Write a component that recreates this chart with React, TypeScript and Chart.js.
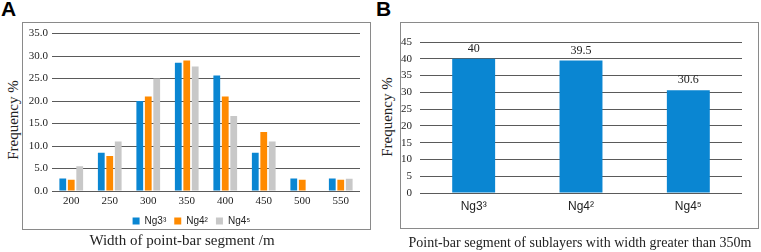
import React, { useEffect, useRef } from "react";
import { Chart, registerables } from "chart.js";

Chart.register(...registerables);

const widthCategories = ["200", "250", "300", "350", "400", "450", "500", "550"];
const ng33Values = [2.8, 8.5, 20.0, 28.5, 25.7, 8.5, 2.8, 2.8];
const ng42Values = [2.5, 7.8, 21.0, 29.0, 21.0, 13.1, 2.5, 2.5];
const ng45Values = [5.5, 11.0, 25.0, 27.7, 16.7, 11.0, 0, 2.7];
const seriesNames = ["Ng3\u00B3", "Ng4\u00B2", "Ng4\u2075"];
const seriesColors = ["#0A86D2", "#FF8A00", "#C8C8C8"];

const sublayerCategories = ["Ng3\u00B3", "Ng4\u00B2", "Ng4\u2075"];
const sublayerValues = [40, 39.5, 30.6];

const SERIF = "'Liberation Serif', 'Times New Roman', serif";
const SANS = "'Liberation Sans', Arial, sans-serif";
const GRID = "#5a5a5a";

const valueLabelPlugin = {
  id: "valueLabels",
  afterDatasetsDraw(chart: any) {
    const ctx = chart.ctx;
    ctx.save();
    ctx.font = `12px ${SERIF}`;
    ctx.fillStyle = "#222";
    ctx.textAlign = "center";
    ctx.textBaseline = "bottom";
    chart.data.datasets.forEach((ds: any, di: number) => {
      const meta = chart.getDatasetMeta(di);
      meta.data.forEach((el: any, i: number) => {
        ctx.fillText(String(ds.data[i]), el.x, el.y - 4);
      });
    });
    ctx.restore();
  },
};

function ChartA() {
  const ref = useRef<HTMLCanvasElement>(null);
  useEffect(() => {
    const chart = new Chart(ref.current!, {
      type: "bar",
      data: {
        labels: widthCategories,
        datasets: [ng33Values, ng42Values, ng45Values].map((d, i) => ({
          label: seriesNames[i],
          data: d,
          backgroundColor: seriesColors[i],
          barPercentage: 0.8,
          categoryPercentage: 0.66,
        })),
      },
      options: {
        responsive: false,
        animation: false,
        layout: { padding: { top: 9, right: 9, left: 0, bottom: 0 } },
        plugins: {
          tooltip: { enabled: false },
          legend: {
            position: "bottom",
            labels: {
              boxWidth: 7,
              boxHeight: 7,
              padding: 8,
              color: "#222",
              font: { family: SANS, size: 10 },
            },
          },
        },
        scales: {
          x: {
            grid: { display: false, drawTicks: false },
            border: { display: false },
            ticks: { color: "#222", font: { family: SERIF, size: 11 }, padding: 4 },
            afterFit: (s: any) => { s.height = 17; },
          },
          y: {
            min: 0,
            max: 35,
            ticks: {
              stepSize: 5,
              color: "#222",
              font: { family: SERIF, size: 11 },
              padding: 4,
              callback: (v: any) => Number(v).toFixed(1),
            },
            grid: { color: GRID, lineWidth: 1, drawTicks: false },
            border: { display: false },
            afterFit: (s: any) => { s.width = 29; },
          },
        },
      },
    });
    return () => chart.destroy();
  }, []);
  return <canvas ref={ref} width={346} height={213} style={{ position: "absolute", left: 23, top: 23 }} />;
}

function ChartB() {
  const ref = useRef<HTMLCanvasElement>(null);
  useEffect(() => {
    const chart = new Chart(ref.current!, {
      type: "bar",
      data: {
        labels: sublayerCategories,
        datasets: [
          {
            label: "B",
            data: sublayerValues,
            backgroundColor: seriesColors[0],
            barPercentage: 0.4,
            categoryPercentage: 1,
          },
        ],
      },
      plugins: [valueLabelPlugin],
      options: {
        responsive: false,
        animation: false,
        layout: { padding: { top: 19, right: 15, left: 0, bottom: 0 } },
        plugins: { tooltip: { enabled: false }, legend: { display: false } },
        scales: {
          x: {
            grid: { display: false, drawTicks: false },
            border: { display: false },
            ticks: { color: "#222", font: { family: SANS, size: 12 }, padding: 6 },
            afterFit: (s: any) => { s.height = 34; },
          },
          y: {
            min: 0,
            max: 45,
            ticks: { stepSize: 5, color: "#222", font: { family: SERIF, size: 11 }, padding: 8 },
            grid: { color: GRID, lineWidth: 1, drawTicks: false },
            border: { display: false },
            afterFit: (s: any) => { s.width = 19; },
          },
        },
      },
    });
    return () => chart.destroy();
  }, []);
  return <canvas ref={ref} width={356} height={204} style={{ position: "absolute", left: 401, top: 23 }} />;
}

const boxStyle = (left: number, top: number, w: number, h: number): React.CSSProperties => ({
  position: "absolute",
  left,
  top,
  width: w,
  height: h,
  border: "1px solid #8a8a8a",
  boxSizing: "border-box",
});

const rotTitle = (cx: number, cy: number): React.CSSProperties => ({
  position: "absolute",
  left: cx,
  top: cy,
  transform: "translate(-50%, -50%) rotate(-90deg)",
  whiteSpace: "nowrap",
  fontFamily: SERIF,
  fontSize: 15,
  color: "#222",
  lineHeight: 1,
});

const hTitle = (cx: number, cy: number, size: number): React.CSSProperties => ({
  position: "absolute",
  left: cx,
  top: cy,
  transform: "translate(-50%, -50%)",
  whiteSpace: "nowrap",
  fontFamily: SERIF,
  fontSize: size,
  color: "#222",
  lineHeight: 1,
});

const letter = (left: number): React.CSSProperties => ({
  position: "absolute",
  left,
  top: -3,
  fontFamily: SANS,
  fontWeight: "bold",
  fontSize: 21,
  color: "#000",
  lineHeight: 1.1,
});

export default function App() {
  return (
    <div style={{ position: "fixed", left: 0, top: 0, width: 761, height: 252, background: "#fff", overflow: "hidden" }}>
      <div style={letter(1)}>A</div>
      <div style={boxStyle(22, 22, 349, 208)} />
      <ChartA />
      <div style={rotTitle(13, 120)}>Frequency %</div>
      <div style={hTitle(182, 240, 15)}>Width of point-bar segment /m</div>

      <div style={letter(376)}>B</div>
      <div style={boxStyle(400, 22, 359, 207)} />
      <ChartB />
      <div style={rotTitle(387, 117)}>Frequency %</div>
      <div style={hTitle(580, 243, 14)}>Point-bar segment of sublayers with width greater than 350m</div>
    </div>
  );
}
